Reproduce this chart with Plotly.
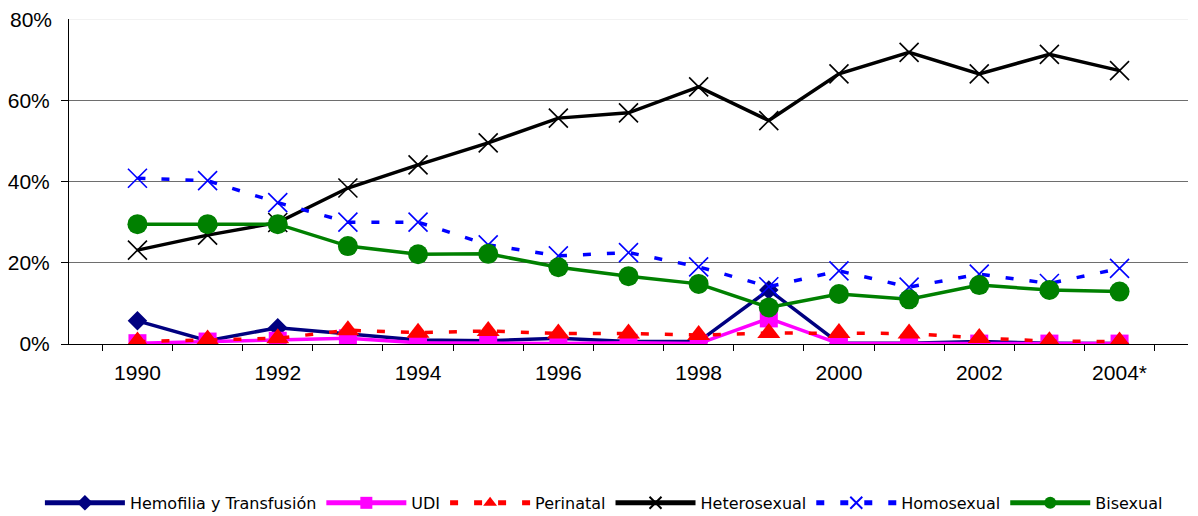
import plotly.graph_objects as go

years = ["1990", "1991", "1992", "1993", "1994", "1995", "1996", "1997",
         "1998", "1999", "2000", "2001", "2002", "2003", "2004*"]
tick_labels = ["1990", "", "1992", "", "1994", "", "1996", "", "1998", "",
               "2000", "", "2002", "", "2004*"]

hemofilia = [5.7, 0.8, 4.0, 2.6, 1.0, 0.8, 1.4, 0.6, 0.6, 13.3, 0.2, 0.2, 0.6, 0.2, 0.1]
udi = [0.2, 0.6, 0.8, 1.4, 0.3, 0.1, 0.1, 0.3, 0.1, 6.3, 0.1, 0.1, 0.1, 0.1, 0.1]
perinatal = [0.6, 1.1, 1.4, 3.4, 2.8, 3.2, 2.6, 2.6, 2.2, 2.7, 2.7, 2.6, 1.5, 0.7, 0.6]
heterosexual = [23.1, 26.8, 29.9, 38.4, 44.1, 49.5, 55.6, 56.9, 63.3, 55.0, 66.5, 71.8, 66.5, 71.3, 67.3]
homosexual = [40.8, 40.2, 34.8, 30.0, 30.0, 24.4, 21.7, 22.5, 19.0, 14.1, 18.0, 14.0, 17.2, 14.9, 18.6]
bisexual = [29.5, 29.5, 29.5, 24.1, 22.1, 22.2, 18.9, 16.7, 14.8, 9.0, 12.3, 11.0, 14.5, 13.3, 12.9]

def frac(v):
    return [x / 100 for x in v]

DASH = "8px,16px"

fig = go.Figure()

fig.add_trace(go.Scatter(
    x=years, y=frac(hemofilia), name="Hemofilia y Transfusión", mode="lines+markers",
    line=dict(color="#000080", width=3.5),
    marker=dict(symbol="diamond", size=15, color="#000080")))
fig.add_trace(go.Scatter(
    x=years, y=frac(udi), name="UDI", mode="lines+markers",
    line=dict(color="#FF00FF", width=3.5),
    marker=dict(symbol="square", size=18, color="#FF00FF")))
fig.add_trace(go.Scatter(
    x=years, y=frac(perinatal), name="Perinatal", mode="lines+markers",
    line=dict(color="#FF0000", width=3.5, dash=DASH),
    marker=dict(symbol="triangle-up", size=20, color="#FF0000")))
fig.add_trace(go.Scatter(
    x=years, y=frac(heterosexual), name="Heterosexual", mode="lines+markers",
    line=dict(color="#000000", width=3.5),
    marker=dict(symbol="x-thin", size=19, color="#000000",
                line=dict(color="#000000", width=1.6))))
fig.add_trace(go.Scatter(
    x=years, y=frac(homosexual), name="Homosexual", mode="lines+markers",
    line=dict(color="#0000FF", width=3.5, dash=DASH),
    marker=dict(symbol="x-thin", size=19, color="#0000FF",
                line=dict(color="#0000FF", width=1.6))))
fig.add_trace(go.Scatter(
    x=years, y=frac(bisexual), name="Bisexual", mode="lines+markers",
    line=dict(color="#008000", width=3.5),
    marker=dict(symbol="circle", size=20, color="#008000")))

fig.update_layout(
    width=1190, height=508,
    margin=dict(l=61, r=10, t=11, b=172, autoexpand=False),
    paper_bgcolor="white", plot_bgcolor="white",
    font=dict(family="Liberation Sans, Arial, sans-serif", color="black", size=21),
    showlegend=True,
    legend=dict(orientation="h", x=-0.026, xanchor="left", y=-0.489, yanchor="middle",
                font=dict(family="DejaVu Sans, sans-serif", size=16), tracegroupgap=0,
                itemwidth=80, itemsizing="constant",
                bgcolor="rgba(0,0,0,0)"),
    shapes=[dict(type="line", xref="paper", yref="y", x0=0, x1=1, y0=0.8, y1=0.8,
                 line=dict(color="#e6e6e6", width=1), layer="below")],
)

fig.update_xaxes(
    type="category", categoryorder="array", categoryarray=years,
    tickmode="array", tickvals=years, ticktext=tick_labels,
    tickson="boundaries", ticks="outside", ticklen=6, tickcolor="black",
    showline=True, linecolor="black", linewidth=1,
    showgrid=False, zeroline=False, ticklabelstandoff=10,
    tickfont=dict(size=21),
)
fig.update_yaxes(
    range=[0, 0.8], tickvals=[0, 0.2, 0.4, 0.6], tickformat=".0%",
    ticks="outside", ticklen=7, tickcolor="black",
    showline=True, linecolor="black", linewidth=1,
    showgrid=True, gridcolor="#6e6e6e", gridwidth=1,
    zeroline=False, ticklabelstandoff=7, tickfont=dict(size=21),
)
fig.add_annotation(x=0, xref="paper", y=0.8, yref="y", text="80%", showarrow=False,
                   xanchor="right", yanchor="middle", xshift=-15, font=dict(size=21))

fig.write_html("out.html")
